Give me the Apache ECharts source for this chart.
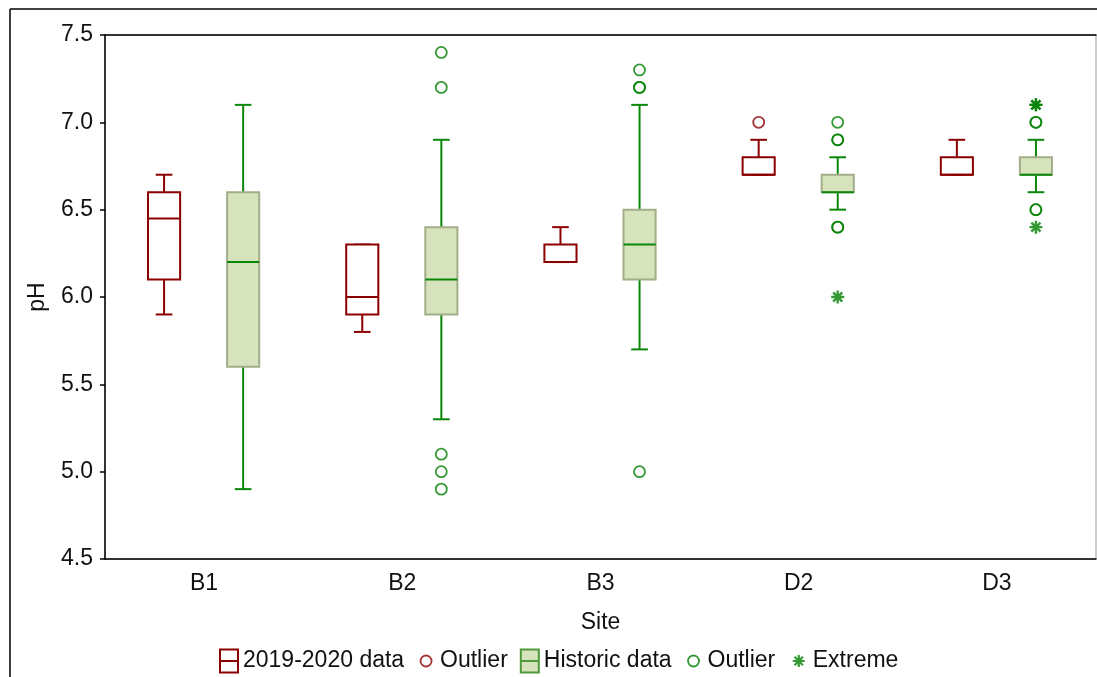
<!DOCTYPE html>
<html>
<head>
<meta charset="utf-8">
<title>pH by site</title>
<script src="https://cdn.jsdelivr.net/npm/echarts@6/dist/echarts.min.js"></script>
<style>
  html, body { margin: 0; padding: 0; background: #fff; }
  #main { width: 1097px; height: 677px; }
</style>
</head>
<body>
<div id="main"></div>
<script>
// sites on the x axis
const categories = ['B1', 'B2', 'B3', 'D2', 'D3'];
const yTicks = [4.5, 5.0, 5.5, 6.0, 6.5, 7.0, 7.5];

// [min, q1, median, q3, max] per site
const recentBoxes = [
  [5.9, 6.1, 6.45, 6.6, 6.7],
  [5.8, 5.9, 6.0, 6.3, 6.3],
  [6.2, 6.2, 6.2, 6.3, 6.4],
  [6.7, 6.7, 6.7, 6.8, 6.9],
  [6.7, 6.7, 6.7, 6.8, 6.9]
];
const historicBoxes = [
  [4.9, 5.6, 6.2, 6.6, 7.1],
  [5.3, 5.9, 6.1, 6.4, 6.9],
  [5.7, 6.1, 6.3, 6.5, 7.1],
  [6.5, 6.6, 6.6, 6.7, 6.8],
  [6.6, 6.7, 6.7, 6.8, 6.9]
];
const recentOutliers = [['D2', 7.0]];
const historicOutliers = [
  ['B2', 7.4], ['B2', 7.2], ['B2', 5.1], ['B2', 5.0], ['B2', 4.9],
  ['B3', 7.3], ['B3', 7.2], ['B3', 7.2], ['B3', 5.0],
  ['D2', 7.0], ['D2', 6.9], ['D2', 6.9], ['D2', 6.4], ['D2', 6.4],
  ['D3', 7.0], ['D3', 7.0], ['D3', 6.5], ['D3', 6.5]
];
const historicExtremes = [['D2', 6.0], ['D3', 7.1], ['D3', 7.1], ['D3', 6.4]];

const RED = '#8b0000';
const GREEN = '#0a870a';
const DOT_GREEN = '#008000';
const FILL = '#d6e3bc';
const FONT = 'Liberation Sans';

// offsets / widths as fraction of the category band
const RED_OFF = -0.202, GREEN_OFF = 0.197;
const BOX_HALF = 0.081, CAP_HALF = 0.042;

function boxRenderer(off, lineColor, fill, boxBorder) {
  return function (params, api) {
    const cat = api.value(0);
    const band = api.size([1, 0])[0];
    const cx = api.coord([cat, 0])[0] + off * band;
    const y = v => api.coord([cat, v])[1];
    const yMin = y(api.value(1)), yQ1 = y(api.value(2)), yMed = y(api.value(3));
    const yQ3 = y(api.value(4)), yMax = y(api.value(5));
    const hw = BOX_HALF * band, cw = CAP_HALF * band;
    const ls = { stroke: lineColor, lineWidth: 2 };
    return {
      type: 'group',
      children: [
        { type: 'line', shape: { x1: cx, y1: yMin, x2: cx, y2: yQ1 }, style: ls },
        { type: 'line', shape: { x1: cx, y1: yQ3, x2: cx, y2: yMax }, style: ls },
        { type: 'line', shape: { x1: cx - cw, y1: yMin, x2: cx + cw, y2: yMin }, style: ls },
        { type: 'line', shape: { x1: cx - cw, y1: yMax, x2: cx + cw, y2: yMax }, style: ls },
        { type: 'rect', shape: { x: cx - hw, y: yQ3, width: hw * 2, height: yQ1 - yQ3 },
          style: { fill: fill, stroke: boxBorder, lineWidth: 2 } },
        { type: 'line', shape: { x1: cx - hw, y1: yMed, x2: cx + hw, y2: yMed }, style: ls }
      ]
    };
  };
}

const toBoxData = boxes => boxes.map((b, i) => [i].concat(b));

const boxIcon = 'path://M0,0 L18,0 L18,23 L0,23 Z M0,11.5 L18,11.5';
const circleIcon = 'path://M0,0 M18,23 M3.5,11.5 A5.5,5.5 0 1,1 14.5,11.5 A5.5,5.5 0 1,1 3.5,11.5 Z';
const starIcon = 'path://M0,0 M18,23 M9,5.5 L9,17.5 M3,11.5 L15,11.5 M4.8,7.3 L13.2,15.7 M13.2,7.3 L4.8,15.7';
const starSymbol = 'path://M5,0 L5,10 M0,5 L10,5 M1.5,1.5 L8.5,8.5 M8.5,1.5 L1.5,8.5';

const chart = echarts.init(document.getElementById('main'), null, { renderer: 'canvas' });

const option = {
  animation: false,
  textStyle: { fontFamily: FONT },
  grid: {
    left: 105, right: 1, top: 35, bottom: 118,
    show: true, borderColor: '#999', borderWidth: 1
  },
  graphic: [
    { type: 'line', shape: { x1: 10, y1: 9, x2: 10, y2: 677 }, style: { stroke: '#000', lineWidth: 1.5 } },
    { type: 'line', shape: { x1: 10, y1: 9, x2: 1097, y2: 9 }, style: { stroke: '#000', lineWidth: 1.5 } }
  ],
  legend: {
    left: 214,
    top: 642,
    itemWidth: 18,
    itemHeight: 23,
    itemGap: 12,
    formatter: name => name.trim(),
    textStyle: { fontFamily: FONT, fontSize: 23, color: '#111' },
    data: [
      { name: '2019-2020 data', icon: boxIcon, itemStyle: { color: '#fff', borderColor: RED, borderWidth: 2 } },
      { name: 'Outlier', icon: circleIcon, itemStyle: { color: '#fff', borderColor: RED, borderWidth: 1.8 } },
      { name: 'Historic data', icon: boxIcon, itemStyle: { color: FILL, borderColor: '#4f9a3a', borderWidth: 2 } },
      { name: 'Outlier ', icon: circleIcon, itemStyle: { color: '#fff', borderColor: DOT_GREEN, borderWidth: 1.8 } },
      { name: 'Extreme', icon: starIcon, itemStyle: { color: 'none', borderColor: DOT_GREEN, borderWidth: 2.2 } }
    ]
  },
  xAxis: [
    {
      type: 'category',
      data: categories,
      position: 'bottom',
      name: 'Site',
      nameLocation: 'middle',
      nameGap: 52,
      nameTextStyle: { fontFamily: FONT, fontSize: 23, color: '#111' },
      axisLine: { lineStyle: { color: '#000', width: 1.5 } },
      axisTick: { inside: true, alignWithLabel: true, length: 6, lineStyle: { color: '#000', width: 1.5 } },
      axisLabel: { fontFamily: FONT, fontSize: 23, color: '#111', margin: 13 },
      splitLine: { show: false }
    },
    {
      type: 'category',
      data: categories,
      position: 'top',
      axisLine: { lineStyle: { color: '#000', width: 1.5 } },
      axisTick: { inside: true, alignWithLabel: true, length: 6, lineStyle: { color: '#000', width: 1.5 } },
      axisLabel: { show: false },
      splitLine: { show: false }
    }
  ],
  yAxis: {
    type: 'value',
    min: yTicks[0],
    max: yTicks[yTicks.length - 1],
    interval: 0.5,
    name: 'pH',
    nameLocation: 'middle',
    nameGap: 56,
    nameRotate: 90,
    nameTextStyle: { fontFamily: FONT, fontSize: 23, color: '#111' },
    axisLine: { show: true, lineStyle: { color: '#000', width: 1.5 } },
    axisTick: { show: true, length: 5, lineStyle: { color: '#000', width: 1.5 } },
    axisLabel: { fontFamily: FONT, fontSize: 23, color: '#111', margin: 12, formatter: v => v.toFixed(1) },
    splitLine: { show: false }
  },
  series: [
    {
      name: '2019-2020 data',
      type: 'custom',
      renderItem: boxRenderer(RED_OFF, RED, '#fff', RED),
      encode: { x: 0, y: [1, 2, 3, 4, 5] },
      data: toBoxData(recentBoxes),
      z: 2
    },
    {
      name: 'Outlier',
      type: 'scatter',
      data: recentOutliers,
      symbol: 'circle',
      symbolSize: 11,
      symbolOffset: [-40, 0],
      itemStyle: { color: '#fff', borderColor: RED, borderWidth: 1.8 },
      z: 3
    },
    {
      name: 'Historic data',
      type: 'custom',
      renderItem: boxRenderer(GREEN_OFF, GREEN, FILL, '#a2ae88'),
      encode: { x: 0, y: [1, 2, 3, 4, 5] },
      data: toBoxData(historicBoxes),
      z: 2
    },
    {
      name: 'Outlier ',
      type: 'scatter',
      data: historicOutliers,
      symbol: 'circle',
      symbolSize: 11,
      symbolOffset: [39, 0],
      itemStyle: { color: 'rgba(255,255,255,0)', borderColor: DOT_GREEN, borderWidth: 1.8 },
      z: 3
    },
    {
      name: 'Extreme',
      type: 'scatter',
      data: historicExtremes,
      symbol: starSymbol,
      symbolSize: 13,
      symbolOffset: [39, 0],
      itemStyle: { color: 'none', borderColor: DOT_GREEN, borderWidth: 2.4 },
      z: 3
    }
  ]
};

chart.setOption(option);
</script>
</body>
</html>
